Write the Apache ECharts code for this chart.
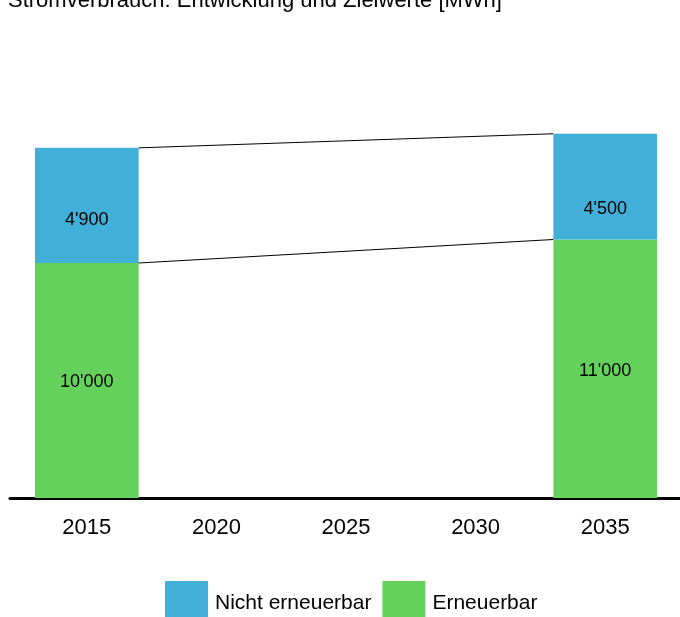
<!DOCTYPE html>
<html>
<head>
<meta charset="utf-8">
<script src="https://cdn.jsdelivr.net/npm/echarts@6/dist/echarts.min.js"></script>
<style>
html,body{margin:0;padding:0;background:#fff;}
#main{width:680px;height:617px;}
</style>
</head>
<body>
<div id="main"></div>
<script>
const titleText = "Stromverbrauch: Entwicklung und Zielwerte [MWh]";
const categories = ['2015', '2020', '2025', '2030', '2035'];
const erneuerbar = [10000, '-', '-', '-', 11000];
const nichtErneuerbar = [4900, '-', '-', '-', 4500];
const seriesNames = ['Nicht erneuerbar', 'Erneuerbar'];

const FONT = "'Liberation Sans', Arial, sans-serif";
const blue = '#42AFD9';
const green = '#64D25A';

function fmt(v) {
  return String(v).replace(/\B(?=(\d{3})+(?!\d))/g, "'");
}

// connector lines between first and last bars
const filled = categories.map((c, i) => i).filter(i => erneuerbar[i] !== '-');
const iA = filled[0], iB = filled[filled.length - 1];
const connectors = [
  [iA, erneuerbar[iA] + nichtErneuerbar[iA], iB, erneuerbar[iB] + nichtErneuerbar[iB]],
  [iA, erneuerbar[iA], iB, erneuerbar[iB]]
];

const blueOffsets = {0: [0, 15], 4: [0, 22]};

const chart = echarts.init(document.getElementById('main'));
chart.setOption({
  animation: false,
  backgroundColor: '#fff',
  textStyle: {fontFamily: FONT},
  title: {
    text: titleText,
    left: 3, top: -15,
    textStyle: {fontSize: 22, fontWeight: 'normal', color: '#000', fontFamily: FONT}
  },
  legend: {
    data: seriesNames,
    left: 165, top: 581,
    padding: 0,
    icon: 'rect',
    itemWidth: 43, itemHeight: 36, itemGap: 11,
    formatter: '{t|{name}}',
    textStyle: {
      fontSize: 21, color: '#000', fontFamily: FONT,
      rich: {t: {fontSize: 21, color: '#000', fontFamily: FONT, padding: [8, 0, 0, 2]}}
    }
  },
  grid: [
    {left: 22, right: 10, top: 28, bottom: 119},
    {left: 10, right: 0, top: 28, bottom: 119}
  ],
  xAxis: [
    {
      type: 'category', data: categories, gridIndex: 0,
      axisLine: {show: false}, axisTick: {show: false},
      axisLabel: {fontSize: 22, color: '#000', margin: 19, fontFamily: FONT}
    },
    {
      type: 'value', gridIndex: 1, min: 0, max: 1,
      axisLine: {show: true, onZero: false, lineStyle: {color: '#000', width: 3}},
      axisTick: {show: false}, axisLabel: {show: false}, splitLine: {show: false}
    }
  ],
  yAxis: [
    {type: 'value', gridIndex: 0, min: 0, max: 20000, show: false},
    {type: 'value', gridIndex: 1, min: 0, max: 1, show: false}
  ],
  series: [
    {
      name: 'Erneuerbar', type: 'bar', stack: 'total', barWidth: '80%',
      itemStyle: {color: green},
      label: {show: true, position: 'inside', offset: [0, 2], fontSize: 18, color: '#000', fontFamily: FONT,
        formatter: p => fmt(p.value)},
      data: erneuerbar
    },
    {
      name: 'Nicht erneuerbar', type: 'bar', stack: 'total', barWidth: '80%',
      itemStyle: {color: blue},
      data: nichtErneuerbar.map((v, i) => v === '-' ? v : {
        value: v,
        label: {offset: blueOffsets[i] || [0, 0]}
      }),
      label: {show: true, position: 'inside', fontSize: 18, color: '#000', fontFamily: FONT,
        formatter: p => fmt(p.value)}
    },
    {
      name: 'connectors', type: 'custom', xAxisIndex: 0, yAxisIndex: 0,
      silent: true, z: 5,
      encode: {x: [0, 2], y: [1, 3]},
      data: connectors,
      renderItem: function (params, api) {
        const a = api.coord([api.value(0), api.value(1)]);
        const b = api.coord([api.value(2), api.value(3)]);
        const half = api.size([1, 0])[0] * 0.4;
        return {
          type: 'line',
          shape: {x1: a[0] + half, y1: a[1], x2: b[0] - half, y2: b[1]},
          style: {stroke: '#000', lineWidth: 1}
        };
      }
    }
  ]
});
</script>
</body>
</html>
